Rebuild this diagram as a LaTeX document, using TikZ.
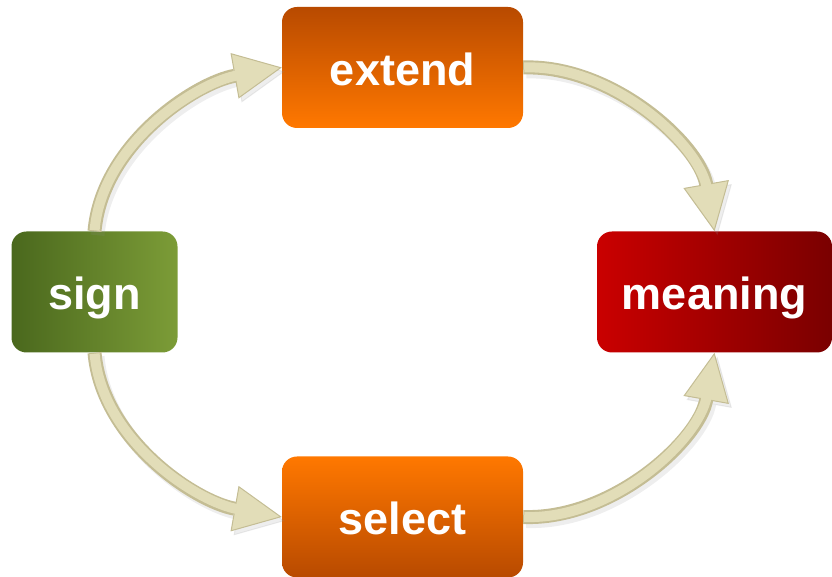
\documentclass[tikz,border=0pt]{standalone}
\usepackage{fontspec}
\setsansfont{Liberation Sans}
\usetikzlibrary{arrows.meta,positioning}
\definecolor{cyclebeige}{HTML}{E2DDB8}
\definecolor{cycleedge}{HTML}{C4BD94}
\definecolor{cyclelight}{HTML}{F2EFD8}
\definecolor{orangedark}{HTML}{B84A00}
\definecolor{orangebright}{HTML}{FF7800}
\definecolor{greendark}{HTML}{4A681D}
\definecolor{greenlight}{HTML}{7C9C37}
\definecolor{redbright}{HTML}{CA0000}
\definecolor{reddark}{HTML}{7A0000}

\begin{document}
\begin{tikzpicture}[
  x=1pt, y=1pt,
  font=\sffamily\bfseries\fontsize{45}{50}\selectfont,
  stepbox/.style={rounded corners=15pt, text=white, inner sep=0pt, minimum height=121pt,
    text height=36pt, text depth=0pt},
  orangedown/.style={stepbox, top color=orangedark, bottom color=orangebright, minimum width=241pt},
  orangeup/.style={stepbox, top color=orangebright, bottom color=orangedark, minimum width=241pt},
  greenbox/.style={stepbox, left color=greendark, right color=greenlight, minimum width=166pt},
  redbox/.style={stepbox, left color=redbright, right color=reddark, minimum width=235pt},
  arr/.style={line width=14pt, draw=cycleedge, looseness=0.9,
    -{Triangle[length=48pt, width=46pt, line width=1pt, fill=cyclebeige]}},
  arrshade/.style={line width=14pt, draw=black!45, opacity=.15, looseness=0.9,
    transform canvas={shift={(3pt,-4pt)}},
    -{Triangle[length=48pt, width=46pt, line width=1pt, fill=black!45]}},
  arrlit/.style={line width=10pt, draw=cyclebeige, looseness=0.9, shorten >=44pt, shorten <=1pt},
]
  \useasboundingbox (0,0) rectangle (832,577);

  \node[greenbox]   (sign)    at (94.5,285)   {sign};
  \node[orangedown] (extend)  at (402.5,509.5) {extend};
  \node[orangeup]   (select)  at (402.5,60)   {select};
  \node[redbox]     (meaning) at (714.5,285)  {meaning};

  % curved arrows round the cycle
  \foreach \src/\dst/\o/\i in {sign.north/extend.west/85/190,
                               extend.east/meaning.north/2/100,
                               sign.south/select.west/275/170,
                               select.east/meaning.south/-2/260} {
    \draw[arrshade] (\src) to[out=\o, in=\i] (\dst);
    \draw[arr] (\src) to[out=\o, in=\i] (\dst);
    \draw[arrlit] (\src) to[out=\o, in=\i] (\dst);
  }
\end{tikzpicture}
\end{document}
